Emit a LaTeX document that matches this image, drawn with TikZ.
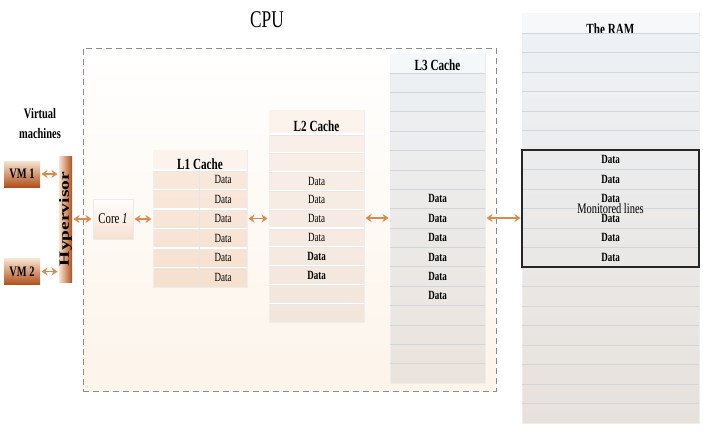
\documentclass[tikz,border=0pt]{standalone}
\usepackage{fontspec}
\setmainfont{Liberation Serif}[FakeStretch=0.72]
\newfontfamily\wideserif{Liberation Serif}
\usetikzlibrary{positioning,arrows.meta}

\definecolor{rust}{HTML}{B0501A}
\definecolor{peach}{HTML}{F8E4D0}
\definecolor{linkc}{HTML}{DD8A4F}
\definecolor{cpuframe}{HTML}{8C8C8C}
\definecolor{cpubot}{HTML}{FDF4EA}
\definecolor{lonetop}{HTML}{F9EADF}
\definecolor{lonebot}{HTML}{F6E0CF}
\definecolor{lonetitle}{HTML}{FCF3EC}
\definecolor{ltwotop}{HTML}{FBF1EA}
\definecolor{ltwobot}{HTML}{F2E5DB}
\definecolor{lthreetop}{HTML}{ECF1F5}
\definecolor{lthreebot}{HTML}{EBE3DC}
\definecolor{ramtop}{HTML}{EEF2F6}
\definecolor{rambot}{HTML}{E7E1DC}
\definecolor{gline}{HTML}{D2D6DA}

\tikzset{
  link/.style={{Stealth[length=6pt,width=8pt]}-{Stealth[length=6pt,width=8pt]},draw=linkc,line width=1.7pt,shorten <=1.5pt,shorten >=1.5pt},
  vmbox/.style={inner sep=0,outer sep=0,top color=peach,bottom color=rust,minimum width=36,minimum height=26,font=\fontsize{14.5}{14}\selectfont\bfseries},
  col/.style={inner sep=0,outer sep=0,draw=black!7,line width=.4pt},
  head/.style={font=\fontsize{15.5}{15}\selectfont\bfseries},
  datatxt/.style={font=\fontsize{12.5}{12}\selectfont},
  sep/.style={draw=white,line width=1.2pt},
  sepsh/.style={draw=black!9,line width=.4pt},
  gsep/.style={draw=gline,line width=.6pt}
}

\begin{document}
\begin{tikzpicture}[x=1pt,y=1pt]
\fill[white] (0,0) rectangle (703,-434);
\useasboundingbox (0,0) rectangle (703,-434);
% CPU frame
\node[inner sep=0,outer sep=0,draw=cpuframe,dash pattern=on 6pt off 4pt,line width=.8pt,top color=white,bottom color=cpubot,minimum width=413,minimum height=343](cpu) at (289.5,-219.5){};
\node[font=\fontsize{24}{24}\selectfont](cpulab) at (267,-20){CPU};

% L1 cache
\node[col,top color=lonetop,bottom color=lonebot,minimum width=94,minimum height=137](L1) at (200,-218.5){};
\fill[lonetitle] (L1.north west) rectangle ([yshift=-20]L1.north east);
\node[head](L1t) at (200,-164){L1 Cache};
\foreach \i in {0,...,5}{
  \draw[sepsh] ([yshift={-20.8-19.5*\i}]L1.north west) -- ++(94,0);
  \draw[sep] ([yshift={-20-19.5*\i}]L1.north west) -- ++(94,0);
  \node[datatxt](L1d\i) at ([xshift=70,yshift={-29.75-19.5*\i}]L1.north west){Data};
}
\draw[draw=black!10,line width=.5pt] ([xshift=46,yshift=-20]L1.north west) -- ([xshift=46]L1.south west);

% L2 cache
\node[col,top color=ltwotop,bottom color=ltwobot,minimum width=95,minimum height=212](L2) at (316.5,-216){};
\fill[lonetitle] (L2.north west) rectangle ([yshift=-24]L2.north east);
\node[head](L2t) at (316.5,-126){L2 Cache};
\foreach \i in {0,...,9}{
  \draw[sepsh] ([yshift={-24.8-18.8*\i}]L2.north west) -- ++(95,0);
  \draw[sep] ([yshift={-24-18.8*\i}]L2.north west) -- ++(95,0);
}
\foreach \i in {2,...,5}
  \node[datatxt](L2d\i) at ([xshift=47.5,yshift={-24-18.8*(\i+.5)}]L2.north west){Data};
\foreach \i in {6,7}
  \node[datatxt,font=\fontsize{12.5}{12}\selectfont\bfseries](L2d\i) at ([xshift=47.5,yshift={-24-18.8*(\i+.5)}]L2.north west){Data};

% L3 cache
\node[col,top color=lthreetop,bottom color=lthreebot,minimum width=95,minimum height=330](L3) at (437.5,-218){};
\fill[white,opacity=.5] (L3.north west) rectangle ([yshift=-20]L3.north east);
\node[head](L3t) at (437.5,-65.5){L3 Cache};
\foreach \i in {0,...,15}
  \draw[gsep] ([yshift={-20-19.375*\i}]L3.north west) -- ++(95,0);
\foreach \i in {6,...,11}
  \node[datatxt,font=\fontsize{12.5}{12}\selectfont\bfseries](L3d\i) at ([xshift=47.5,yshift={-20-19.375*(\i+.5)}]L3.north west){Data};

% The RAM
\node[col,top color=ramtop,bottom color=rambot,minimum width=177,minimum height=410](RAM) at (610.5,-218){};
\fill[white,opacity=.5] (RAM.north west) rectangle ([yshift=-20]RAM.north east);
\node[head](RAMt) at (610.5,-29.5){The RAM};
\foreach \i in {0,...,19}
  \draw[gsep] ([yshift={-20-19.5*\i}]RAM.north west) -- ++(177,0);
\foreach \i in {6,...,11}
  \node[datatxt,font=\fontsize{12.5}{12}\selectfont\bfseries](Rd\i) at ([xshift=88.5,yshift={-20-19.5*(\i+.5)}]RAM.north west){Data};
\node[draw=black!85,line width=1.2pt,inner sep=0,minimum width=177,minimum height=117,font=\fontsize{14.5}{14}\selectfont](mon) at (610.5,-208.5){Monitored lines};

% VMs, hypervisor, core
\node[font=\fontsize{14.5}{20}\selectfont\bfseries,align=center](vmlab) at (40,-123.5){Virtual\\machines};
\node[vmbox](vm1) at (22,-174){VM 1};
\node[vmbox,below=71.5 of vm1](vm2){VM 2};
\node[inner sep=0,outer sep=0,left color=peach,right color=rust,minimum width=13,minimum height=126](hyp) at (65.5,-219){\scalebox{.72}[1]{\rotatebox{90}{\wideserif\fontsize{19.5}{19}\selectfont\bfseries Hypervisor}}};
\node[inner sep=0,outer sep=0,draw=black!8,top color=white,bottom color=lonebot,minimum width=40,minimum height=40,font=\fontsize{15}{14}\selectfont,right=21 of hyp](core){Core \textit{1}};

% Arrows
\draw[link] (vm1.east) -- (vm1.east -| hyp.west);
\draw[link] (vm2.east) -- (vm2.east -| hyp.west);
\draw[link] (core.west -| hyp.east) -- (core.west);
\draw[link] (core.east) -- (core.east -| L1.west);
\draw[link] (L1.east) -- (L1.east -| L2.west);
\draw[link] (L3.west -| L2.east) -- (L3.west);
\draw[link] (L3.east) -- (L3.east -| RAM.west);
\end{tikzpicture}
\end{document}
